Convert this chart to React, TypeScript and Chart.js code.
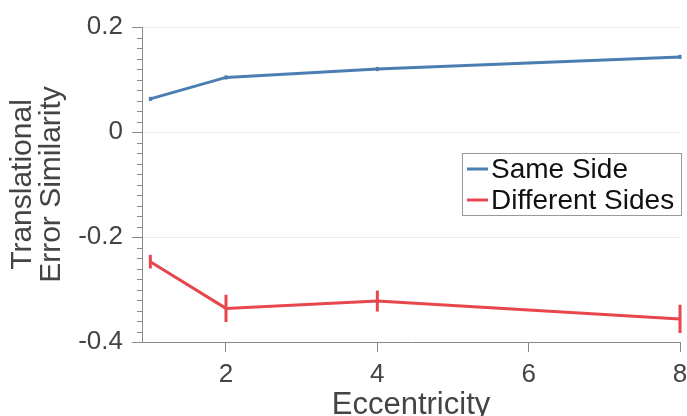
import React, { useEffect, useRef } from "react";
import { Chart, registerables } from "chart.js";

Chart.register(...registerables);

const eccentricity = [1, 2, 4, 8];
const sameSide = [0.063, 0.104, 0.12, 0.143];
const sameSideErr = [0.004, 0.004, 0.004, 0.004];
const differentSides = [-0.247, -0.336, -0.322, -0.356];
const differentSidesErr = [0.013, 0.026, 0.02, 0.027];
const xTicks = [2, 4, 6, 8];
const yTicks = [-0.4, -0.2, 0, 0.2];
const seriesLabels = ["Same Side", "Different Sides"];
const BLUE = "#4a7db0";
const RED = "#e8464d";
const FONT = "'Liberation Sans', Arial, Helvetica, sans-serif";

const errorBarPlugin = {
  id: "errorBars",
  afterDatasetsDraw(chart: any) {
    const { ctx, scales } = chart;
    const errs = [sameSideErr, differentSidesErr];
    chart.data.datasets.forEach((ds: any, i: number) => {
      ctx.save();
      ctx.strokeStyle = ds.borderColor;
      ctx.lineWidth = 3;
      ds.data.forEach((pt: any, j: number) => {
        const x = scales.x.getPixelForValue(pt.x);
        const y1 = scales.y.getPixelForValue(pt.y - errs[i][j]);
        const y2 = scales.y.getPixelForValue(pt.y + errs[i][j]);
        ctx.beginPath();
        ctx.moveTo(x, y1);
        ctx.lineTo(x, y2);
        ctx.stroke();
      });
      ctx.restore();
    });
  },
};

const minorTickPlugin = {
  id: "minorTicks",
  afterDraw(chart: any) {
    const { ctx, scales } = chart;
    const y = scales.y;
    const left = chart.chartArea.left;
    ctx.save();
    ctx.strokeStyle = "#888";
    ctx.lineWidth = 1;
    for (let k = -20; k <= 10; k++) {
      if (k % 10 === 0) continue;
      const v = k * 0.02;
      const py = Math.round(y.getPixelForValue(v)) + 0.5;
      ctx.beginPath();
      ctx.moveTo(left - 5, py);
      ctx.lineTo(left, py);
      ctx.stroke();
    }
    ctx.restore();
  },
};

const legendPlugin = {
  id: "boxLegend",
  afterDraw(chart: any) {
    const { ctx, chartArea } = chart;
    const bx = chartArea.right - 218;
    const by = 153;
    const bw = 219;
    const bh = 62;
    ctx.save();
    ctx.fillStyle = "#fff";
    ctx.fillRect(bx, by, bw, bh);
    ctx.strokeStyle = "#999";
    ctx.lineWidth = 1;
    ctx.strokeRect(bx + 0.5, by + 0.5, bw, bh);
    ctx.font = `28px ${FONT}`;
    ctx.textBaseline = "middle";
    ctx.fillStyle = "#111";
    chart.data.datasets.forEach((ds: any, i: number) => {
      const cy = by + 16 + i * 31;
      ctx.strokeStyle = ds.borderColor;
      ctx.lineWidth = 3;
      ctx.beginPath();
      ctx.moveTo(bx + 5, cy);
      ctx.lineTo(bx + 26, cy);
      ctx.stroke();
      ctx.fillText(ds.label, bx + 29, cy + 1);
    });
    ctx.restore();
  },
};

export default function App() {
  const ref = useRef<HTMLCanvasElement>(null);
  useEffect(() => {
    document.body.style.margin = "0";
    const toPts = (ys: number[]) => ys.map((v, i) => ({ x: eccentricity[i], y: v }));
    const chart = new Chart(ref.current!, {
      type: "line",
      data: {
        datasets: [
          { label: seriesLabels[0], data: toPts(sameSide), borderColor: BLUE, backgroundColor: BLUE, borderWidth: 3, pointRadius: 0, tension: 0 },
          { label: seriesLabels[1], data: toPts(differentSides), borderColor: RED, backgroundColor: RED, borderWidth: 3, pointRadius: 0, tension: 0 },
        ],
      },
      options: {
        animation: false,
        responsive: false,
        layout: { padding: { top: 27, right: 7, left: 0, bottom: 0 } },
        plugins: { legend: { display: false }, tooltip: { enabled: false } },
        scales: {
          x: {
            type: "linear",
            min: 0.89,
            max: 8,
            afterBuildTicks: (axis: any) => {
              axis.ticks = xTicks.map((v) => ({ value: v }));
            },
            afterFit: (scale: any) => {
              scale.height = 74;
              scale.paddingRight = 0;
              scale.paddingLeft = 0;
            },
            grid: { drawOnChartArea: false, tickLength: 10, color: "#888" },
            border: { color: "#888" },
            ticks: { font: { family: FONT, size: 26 }, color: "#444", padding: 7, maxRotation: 0 },
            title: {
              display: true,
              text: "Eccentricity",
              font: { family: FONT, size: 31, lineHeight: 1 },
              color: "#444",
              padding: { top: 0, bottom: -5 },
            },
          },
          y: {
            min: -0.4,
            max: 0.2,
            afterBuildTicks: (axis: any) => {
              axis.ticks = yTicks.map((v) => ({ value: v }));
            },
            afterFit: (scale: any) => {
              scale.width = 142;
            },
            grid: { color: "#ececec", tickColor: "#888", tickLength: 10 },
            border: { color: "#888" },
            ticks: {
              font: { family: FONT, size: 26 },
              color: "#444",
              padding: 9,
              callback: (v: any) => (Math.abs(v) < 1e-9 ? "0" : Number(v).toFixed(1)),
            },
            title: {
              display: true,
              text: ["Translational", "Error Similarity"],
              font: { family: FONT, size: 30, lineHeight: 0.97 },
              color: "#444",
              padding: { top: 8, bottom: 0 },
            },
          },
        },
      },
      plugins: [minorTickPlugin, errorBarPlugin, legendPlugin],
    });
    return () => chart.destroy();
  }, []);
  return <canvas ref={ref} width={687} height={416} style={{ display: "block" }} />;
}
